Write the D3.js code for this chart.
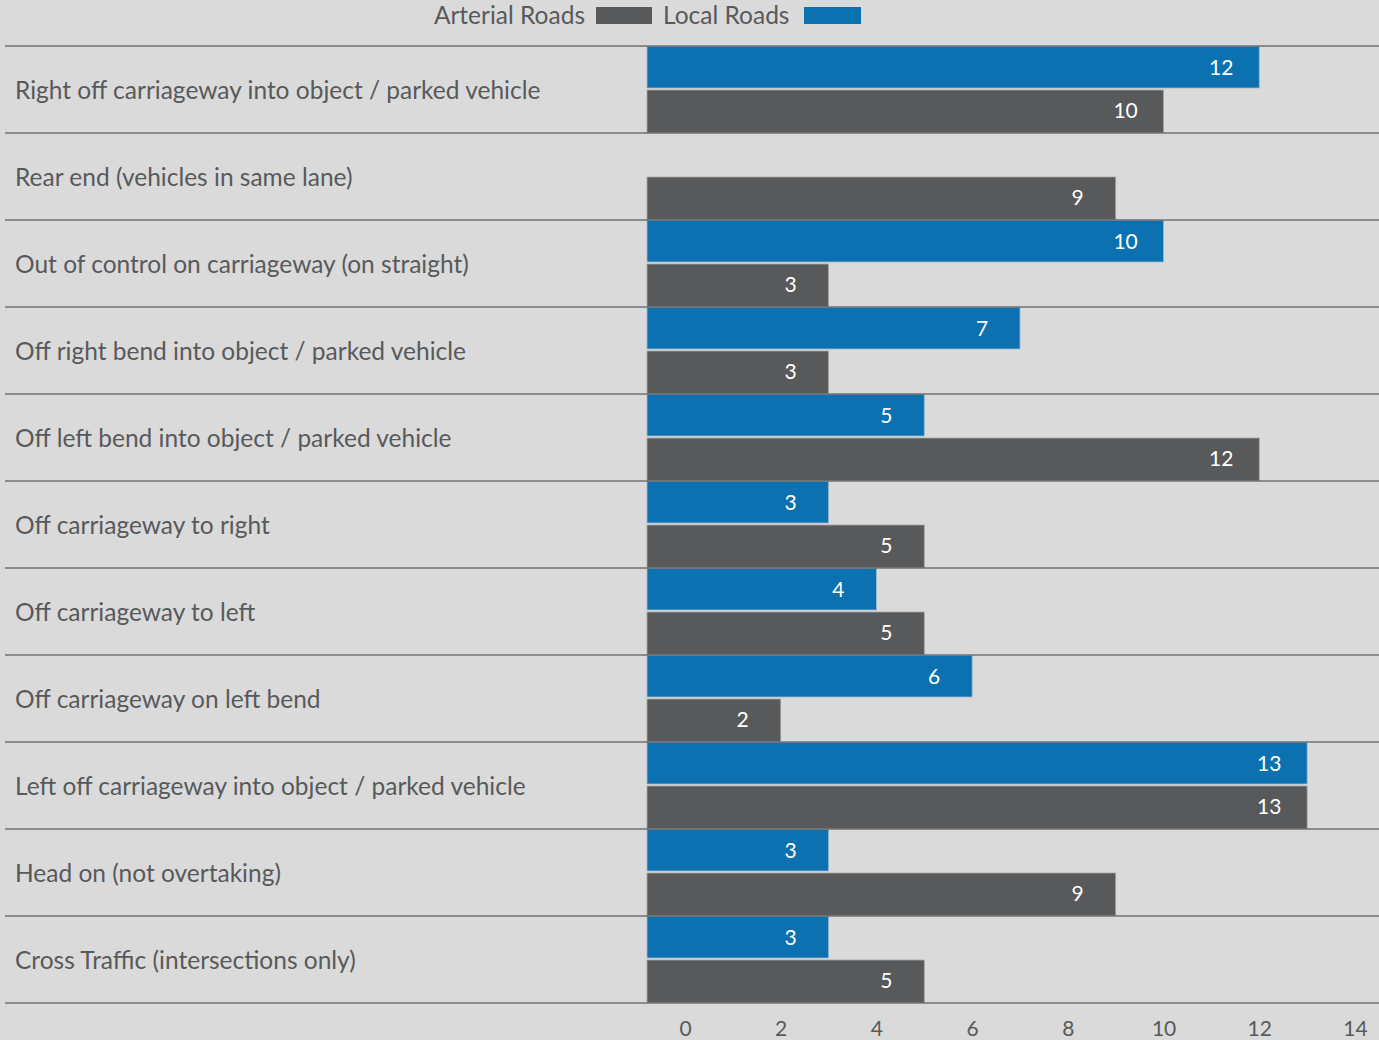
<!DOCTYPE html>
<html>
<head>
<meta charset="utf-8">
<script src="https://cdn.jsdelivr.net/npm/d3@7"></script>
<style>
  html, body { margin: 0; padding: 0; background: #dadada; }
  svg { display: block; font-family: Lato, "Open Sans", sans-serif; }
</style>
</head>
<body>
<svg id="chart" width="1379" height="1040"></svg>
<script>
// Crash types, top to bottom
const categories = [
  "Right off carriageway into object / parked vehicle",
  "Rear end (vehicles in same lane)",
  "Out of control on carriageway (on straight)",
  "Off right bend into object / parked vehicle",
  "Off left bend into object / parked vehicle",
  "Off carriageway to right",
  "Off carriageway to left",
  "Off carriageway on left bend",
  "Left off carriageway into object / parked vehicle",
  "Head on (not overtaking)",
  "Cross Traffic (intersections only)"
];
const localRoads    = [12, null, 10, 7, 5, 3, 4, 6, 13, 3, 3];
const arterialRoads = [10, 9, 3, 3, 12, 5, 5, 2, 13, 9, 5];
const tickValues = [0, 2, 4, 6, 8, 10, 12, 14];

const W = 1379, H = 1040;
const textColor = "#58595b";
const blue = "#0b71b0", grey = "#58595b";

const svg = d3.select("#chart");
svg.append("rect").attr("width", W).attr("height", H).attr("fill", "#dadada");

const plotLeft = 647;
const plotTop = 46, plotBottom = 1003;

const x = d3.scaleLinear().domain([0, 14]).range([685, 1355]);
const y = d3.scaleBand().domain(d3.range(categories.length)).range([plotTop, plotBottom]);
const bh = y.bandwidth();

// Legend
const legend = svg.append("g").attr("font-size", 24.5).attr("fill", textColor);
legend.append("text").attr("x", 585).attr("y", 24).attr("text-anchor", "end").text("Arterial Roads");
legend.append("rect").attr("x", 596).attr("y", 7).attr("width", 56).attr("height", 17).attr("fill", grey);
legend.append("text").attr("x", 663).attr("y", 24).attr("text-anchor", "start").text("Local Roads");
legend.append("rect").attr("x", 804).attr("y", 7).attr("width", 57).attr("height", 17).attr("fill", blue);

// Rows
const rows = svg.append("g").selectAll("g.row")
  .data(categories.map((c, i) => ({ c, i, local: localRoads[i], arterial: arterialRoads[i] })))
  .join("g").attr("class", "row");

// Local roads bars (upper half)
rows.filter(d => d.local != null).append("rect")
  .attr("x", plotLeft)
  .attr("y", d => y(d.i) + 0.5)
  .attr("width", d => x(d.local) - plotLeft)
  .attr("height", bh / 2 - 2)
  .attr("fill", blue)
  .attr("stroke", "#9fb9cc").attr("stroke-width", 0.8);

// Arterial roads bars (lower half)
rows.append("rect")
  .attr("x", plotLeft)
  .attr("y", d => y(d.i) + bh / 2 + 0.5)
  .attr("width", d => x(d.arterial) - plotLeft)
  .attr("height", bh / 2 - 1)
  .attr("fill", grey)
  .attr("stroke", "#a8a8a8").attr("stroke-width", 0.8);

// Value labels
rows.filter(d => d.local != null).append("text")
  .attr("x", d => x(d.local) - 38)
  .attr("y", d => y(d.i) + bh / 4)
  .attr("dy", "0.35em")
  .attr("text-anchor", "middle")
  .attr("font-size", 21).attr("fill", "#fff")
  .text(d => d.local);

rows.append("text")
  .attr("x", d => x(d.arterial) - 38)
  .attr("y", d => y(d.i) + bh * 3 / 4 - 1)
  .attr("dy", "0.35em")
  .attr("text-anchor", "middle")
  .attr("font-size", 21).attr("fill", "#fff")
  .text(d => d.arterial);

// Category labels
rows.append("text")
  .attr("x", 15)
  .attr("y", d => y(d.i) + bh / 2 + 1)
  .attr("dy", "0.35em")
  .attr("font-size", 24.5).attr("fill", textColor)
  .text(d => d.c);

// Row separators
svg.append("g").selectAll("line")
  .data(d3.range(categories.length + 1))
  .join("line")
  .attr("x1", 5).attr("x2", W)
  .attr("y1", i => (i < categories.length ? y(i) : plotBottom))
  .attr("y2", i => (i < categories.length ? y(i) : plotBottom))
  .attr("stroke", "#3f3f3f").attr("stroke-width", 1.2);

// Value axis
const axis = svg.append("g")
  .attr("transform", `translate(0,${plotBottom + 12})`)
  .call(d3.axisBottom(x).tickValues(tickValues).tickSize(0).tickPadding(6));
axis.select(".domain").remove();
axis.selectAll("text").attr("font-size", 21).attr("fill", textColor).attr("font-family", "Lato, 'Open Sans', sans-serif");
</script>
</body>
</html>
